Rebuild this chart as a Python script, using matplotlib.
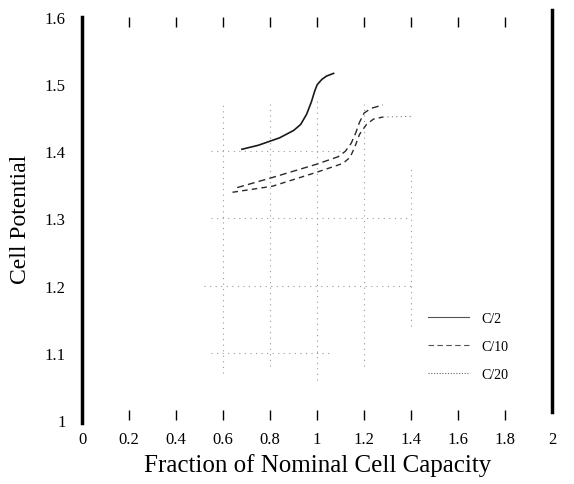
import matplotlib
matplotlib.use("Agg")
import matplotlib.pyplot as plt

plt.rcParams['font.family'] = ['Liberation Serif', 'DejaVu Serif']

# discharge curves
c2_x = [0.68, 0.75, 0.84, 0.90, 0.93, 0.955, 0.975, 0.99, 1.00, 1.02, 1.04, 1.07]
c2_y = [1.403, 1.409, 1.420, 1.431, 1.440, 1.455, 1.473, 1.490, 1.499, 1.507, 1.512, 1.516]

c10_x = [0.66, 0.81, 1.00, 1.09, 1.12, 1.145, 1.165, 1.18, 1.20, 1.23, 1.28]
c10_y = [1.346, 1.361, 1.381, 1.392, 1.400, 1.412, 1.428, 1.443, 1.457, 1.464, 1.469]

c20_x = [0.64, 0.81, 1.00, 1.11, 1.14, 1.16, 1.18, 1.21, 1.24, 1.28, 1.41]
c20_y = [1.339, 1.348, 1.369, 1.382, 1.391, 1.406, 1.425, 1.440, 1.448, 1.451, 1.452]

labels = ['C/2', 'C/10', 'C/20']

x_ticks = [0.2, 0.4, 0.6, 0.8, 1.0, 1.2, 1.4, 1.6, 1.8]
x_ticklabels = ['0', '0.2', '0.4', '0.6', '0.8', '1', '1.2', '1.4', '1.6', '1.8', '2']
y_ticks = [1.0, 1.1, 1.2, 1.3, 1.4, 1.5, 1.6]
y_ticklabels = ['1', '1.1', '1.2', '1.3', '1.4', '1.5', '1.6']

# faded grid fragments visible in the scan
grid_vx = [0.6, 0.8, 1.0, 1.2, 1.4]
grid_vlo = [1.07, 1.08, 1.06, 1.08, 1.14]
grid_vhi = [1.47, 1.47, 1.48, 1.47, 1.38]
grid_hy = [1.1, 1.2, 1.3, 1.4]
grid_hlo = [0.55, 0.52, 0.55, 0.55]
grid_hhi = [1.05, 1.40, 1.40, 1.12]

fig = plt.figure(figsize=(5.74, 4.85), dpi=100)
ax = fig.add_axes([0.143, 0.132, 0.819, 0.831])

ax.vlines(grid_vx, grid_vlo, grid_vhi, colors='#9a9a9a', linestyles=(0, (1, 4)), linewidth=0.8)
ax.hlines(grid_hy, grid_hlo, grid_hhi, colors='#9a9a9a', linestyles=(0, (1, 4)), linewidth=0.8)

ax.plot(c2_x, c2_y, color='#1a1a1a', lw=1.2, label=labels[0])
ax.plot(c10_x, c10_y, color='#2a2a2a', lw=1.0, ls=(0, (5, 3)), label=labels[1])
ax.plot(c20_x[:-1], c20_y[:-1], color='#2a2a2a', lw=1.0, ls=(0, (4, 3)))
ax.plot(c20_x[-2:], c20_y[-2:], color='#777777', lw=0.8, ls=(0, (1, 3)))
# legend handle for C/20 is dotted in the original
ax.plot([], [], color='#666666', lw=0.8, ls=(0, (1, 1.5)), label=labels[2])

ax.set_xlim(0, 2)
ax.set_ylim(1.0, 1.6)

ax.spines['top'].set_visible(False)
ax.spines['bottom'].set_visible(False)
ax.spines['left'].set_linewidth(2.5)
ax.spines['right'].set_linewidth(2.5)
ax.spines['left'].set_bounds(0.995, 1.6)
ax.spines['right'].set_bounds(1.012, 1.61)

ax.set_xticks([0] + x_ticks + [2])
ax.set_xticklabels(x_ticklabels, fontsize=12)
ax.tick_params(axis='x', direction='in', length=7, width=1, top=True, bottom=True, pad=8)
ax.set_yticks(y_ticks)
ax.set_yticklabels(y_ticklabels, fontsize=12)
ax.tick_params(axis='y', length=0, pad=12)
for t in ax.xaxis.get_major_ticks():
    if t.get_loc() in (0, 2):
        t.tick1line.set_visible(False)
        t.tick2line.set_visible(False)

ax.set_ylabel('Cell Potential', fontsize=17, labelpad=10)
ax.set_xlabel('Fraction of Nominal Cell Capacity', fontsize=18, labelpad=4)

leg = ax.legend(loc='upper left', bbox_to_anchor=(0.71, 0.30), frameon=False,
                fontsize=10, handlelength=2.9, labelspacing=1.1, handletextpad=0.9)
for line in leg.get_lines()[:2]:
    line.set_linewidth(0.8)
    line.set_color('#555555')

fig.savefig('out.png', dpi=100)
